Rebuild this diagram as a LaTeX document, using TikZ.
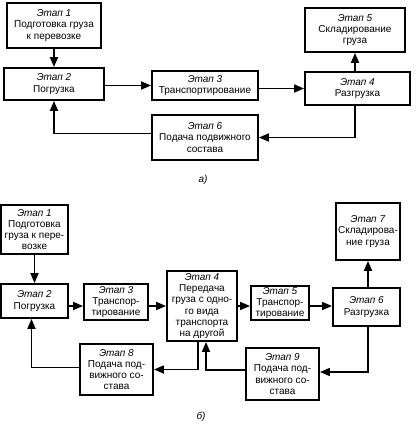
\documentclass[tikz,border=0pt]{standalone}
\usepackage{fontspec}
\setmainfont{Liberation Sans}
\usetikzlibrary{arrows.meta}
\begin{document}
\begin{tikzpicture}[x=1pt,y=-1pt,
  stage/.style={draw,line width=1.9pt,align=center,inner sep=1pt,
    font=\fontsize{10}{11.2}\selectfont},
  arr/.style={line width=1.7pt,-{Triangle[length=10pt,width=8pt]}},
  partlabel/.style={font=\fontsize{10}{11.2}\selectfont\itshape}]
\useasboundingbox (0,0) rectangle (418,425);
% ---- a) ----
\node[stage,minimum width=94pt,minimum height=45pt] (s1) at (54,25.5) {\textit{Этап 1}\\Подготовка груза\\к перевозке};
\node[stage,minimum width=100pt,minimum height=32pt] (s2) at (54,84) {\textit{Этап 2}\\Погрузка};
\node[stage,minimum width=106pt,minimum height=29pt] (s3) at (205,85.5) {\textit{Этап 3}\\Транспортирование};
\node[stage,minimum width=105pt,minimum height=33pt] (s4) at (357.5,88.5) {\textit{Этап 4}\\Разгрузка};
\node[stage,minimum width=100pt,minimum height=44pt] (s5) at (355,30) {\textit{Этап 5}\\Складирование\\груза};
\node[stage,minimum width=106pt,minimum height=45pt] (s6) at (205,137.5) {\textit{Этап 6}\\Подача подвижного\\состава};
\node[partlabel] (la) at (203,180) {а)};
\draw[arr] (s1.south) -- (s2.north);
\draw[arr] (s2.east |- s3.west) -- (s3.west);
\draw[arr] (s3.east |- s4.west) -- (s4.west);
\draw[arr] (s5.south |- s4.north) -- (s5.south);
\draw[arr] (s5.south |- s4.south) |- (s6.east);
\draw[arr] ([yshift=4pt]s6.west) -| (s2.south);
% ---- б) ----
\coordinate (mid) at (0,306);
\node[stage,minimum width=67pt,minimum height=49pt] (b1) at (34.5,229.5) {\textit{Этап 1}\\Подготовка\\груза к пере-\\возке};
\node[stage,minimum width=67pt,minimum height=34pt] (b2) at (34.5,301) {\textit{Этап 2}\\Погрузка};
\node[stage,minimum width=64pt,minimum height=36pt] (b3) at (116,302) {\textit{Этап 3}\\Транспор-\\тирование};
\node[stage,minimum width=70pt,minimum height=70pt] (b4) at (202,306) {\textit{Этап 4}\\Передача\\груза с одно-\\го вида\\транспорта\\на другой};
\node[stage,minimum width=58pt,minimum height=34pt] (b5) at (280,303) {\textit{Этап 5}\\Транспор-\\тирование};
\node[stage,minimum width=67pt,minimum height=38pt] (b6) at (366.5,307) {\textit{Этап 6}\\Разгрузка};
\node[stage,minimum width=64pt,minimum height=57pt] (b7) at (368,231.5) {\textit{Этап 7}\\Складирова-\\ние груза};
\node[stage,minimum width=73pt,minimum height=51pt] (b8) at (116.5,369.5) {\textit{Этап 8}\\Подача под-\\вижного со-\\става};
\node[stage,minimum width=73pt,minimum height=52pt] (b9) at (282.5,374) {\textit{Этап 9}\\Подача под-\\вижного со-\\става};
\node[partlabel] (lb) at (201,417) {б)};
\draw[arr] (b1.south) -- (b2.north);
\draw[arr] (b2.east |- mid) -- (b3.west |- mid);
\draw[arr] (b3.east |- mid) -- (b4.west |- mid);
\draw[arr] (b4.east |- mid) -- (b5.west |- mid);
\draw[arr] (b5.east |- mid) -- (b6.west |- mid);
\draw[arr] (b7.south |- b6.north) -- (b7.south);
\draw[arr] (b7.south |- b6.south) |- ([yshift=2pt]b9.east);
\draw[arr] ([yshift=4pt]b9.west) -| ([xshift=4pt]b4.south);
\draw[arr] ([xshift=-4pt]b4.south) |- (b8.east);
\draw[arr] ([yshift=2pt]b8.west) -| ([xshift=-3pt]b2.south);
\end{tikzpicture}
\end{document}
